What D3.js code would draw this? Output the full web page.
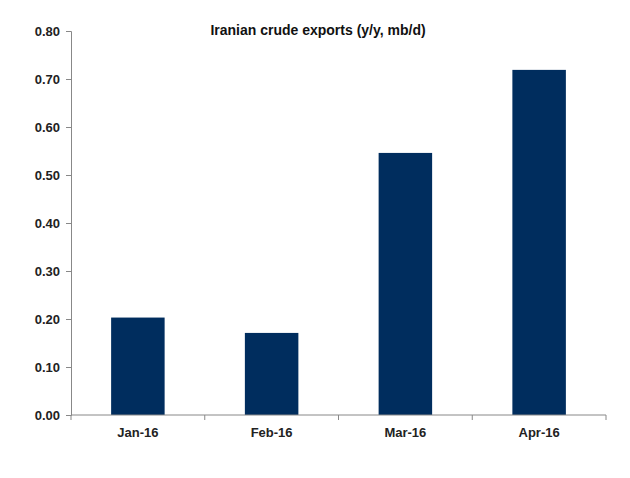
<!DOCTYPE html>
<html><head><meta charset="utf-8">
<script src="https://cdn.jsdelivr.net/npm/d3@7"></script>
<style>body{margin:0;background:#fff}text{font-family:"Liberation Sans",Arial,sans-serif}</style>
</head><body><svg id="c" width="630" height="478"></svg>
<script>
const categories = ["Jan-16","Feb-16","Mar-16","Apr-16"];
const values = [0.203, 0.171, 0.546, 0.719];
const yTicks = [0,0.1,0.2,0.3,0.4,0.5,0.6,0.7,0.8];
const title = "Iranian crude exports (y/y, mb/d)";

const svg = d3.select("#c");
const m = {l:71, r:606, t:31, b:415};
const x = d3.scaleBand().domain(categories).range([m.l, m.r]).paddingInner(0.6).paddingOuter(0.3);
const y = d3.scaleLinear().domain([0,0.8]).range([m.b, m.t]);

svg.selectAll("rect.bar").data(values).enter().append("rect")
  .attr("x",(d,i)=>x(categories[i])).attr("width",x.bandwidth())
  .attr("y",d=>y(d)).attr("height",d=>y(0)-y(d)).attr("fill","#002D5E");

const ya = svg.append("g").attr("transform",`translate(${m.l},0)`)
  .call(d3.axisLeft(y).tickValues(yTicks).tickFormat(d3.format(".2f")).tickSize(5).tickPadding(6));
ya.selectAll("text").attr("font-size",13).attr("font-weight","bold").attr("fill","#222");
ya.selectAll("path,line").attr("stroke","#888");

const bnd = d3.scaleLinear().domain([0,categories.length]).range([m.l,m.r]);
const xa = svg.append("g").attr("transform",`translate(0,${m.b})`);
xa.append("line").attr("x1",m.l).attr("x2",m.r).attr("stroke","#888");
xa.selectAll("line.t").data(d3.range(categories.length+1)).enter().append("line")
  .attr("x1",d=>bnd(d)).attr("x2",d=>bnd(d)).attr("y1",0).attr("y2",5).attr("stroke","#888");
xa.selectAll("text").data(categories).enter().append("text")
  .attr("x",d=>x(d)+x.bandwidth()/2).attr("y",22).attr("text-anchor","middle")
  .attr("font-size",13).attr("font-weight","bold").attr("fill","#222").text(d=>d);

svg.append("text").attr("x",318).attr("y",35).attr("text-anchor","middle")
  .attr("font-size",14).attr("font-weight","bold").attr("fill","#111").text(title);
</script></body></html>
